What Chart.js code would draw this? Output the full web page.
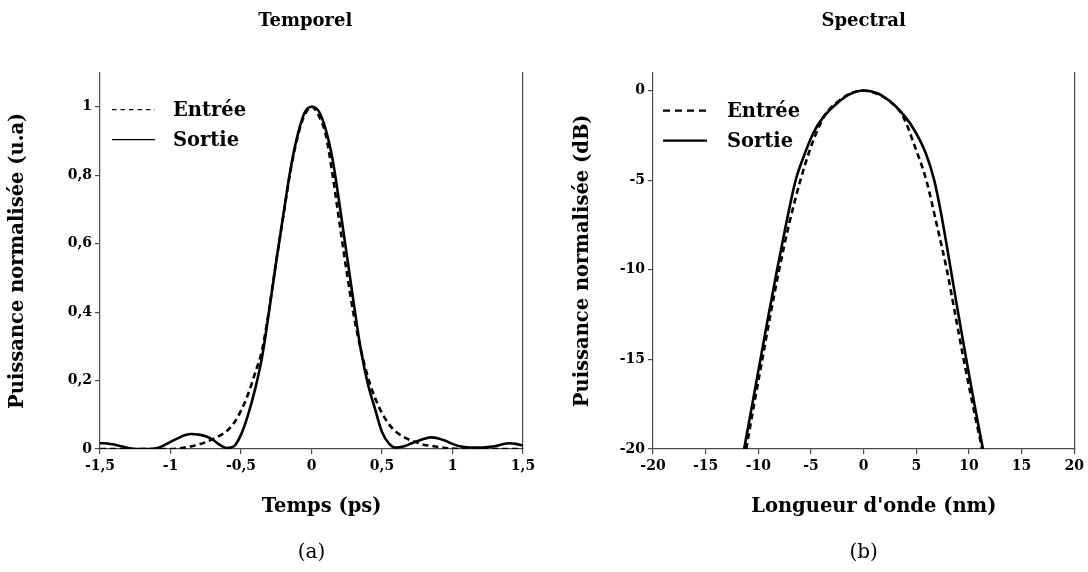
<!DOCTYPE html>
<html>
<head>
<meta charset="utf-8">
<script src="https://cdn.jsdelivr.net/npm/chart.js@4.4.1/dist/chart.umd.min.js"></script>
<style>
  html, body { margin: 0; padding: 0; background: #fff; }
  #wrap { position: relative; width: 1088px; height: 572px; }
  .panel { position: absolute; top: 0; width: 544px; height: 572px; }
  #p1 { left: 0; }
  #p2 { left: 544px; }
</style>
</head>
<body>
<div id="wrap">
  <div class="panel" id="p1"><canvas id="c1" width="544" height="572"></canvas></div>
  <div class="panel" id="p2"><canvas id="c2" width="544" height="572"></canvas></div>
</div>
<script>
// ---- Temporel : puissance normalisée en fonction du temps (ps) ----
const tempsPs = [
  -1.50, -1.45, -1.40, -1.35, -1.30, -1.25, -1.20, -1.15, -1.10, -1.05,
  -1.00, -0.95, -0.90, -0.85, -0.80, -0.75, -0.70, -0.65, -0.60, -0.55,
  -0.50, -0.45, -0.40, -0.35, -0.30, -0.25, -0.20, -0.15, -0.10, -0.05,
   0.00,
   0.05,  0.10,  0.15,  0.20,  0.25,  0.30,  0.35,  0.40,  0.45,  0.50,
   0.55,  0.60,  0.65,  0.70,  0.75,  0.80,  0.85,  0.90,  0.95,  1.00,
   1.05,  1.10,  1.15,  1.20,  1.25,  1.30,  1.35,  1.40,  1.45,  1.50
];
const temporelEntree = [
  0, 0, 0, 0, 0, 0, 0, 0, 0, 0,
  0, 0.001, 0.004, 0.008, 0.013, 0.020, 0.029, 0.039, 0.053, 0.076,
  0.112, 0.160, 0.222, 0.290, 0.410, 0.550, 0.680, 0.810, 0.910, 0.975,
  1.000,
  0.975, 0.920, 0.800, 0.657, 0.517, 0.390, 0.290, 0.210, 0.150, 0.105,
  0.072, 0.050, 0.036, 0.026, 0.019, 0.012, 0.009, 0.006, 0.003, 0.001,
  0, 0, 0, 0, 0, 0, 0, 0, 0, 0
];
const temporelSortie = [
  0.017, 0.016, 0.013, 0.008, 0.003, 0.000, 0.000, 0.000, 0.002, 0.010,
  0.021, 0.031, 0.040, 0.044, 0.042, 0.037, 0.027, 0.012, 0.003, 0.008,
  0.042, 0.100, 0.175, 0.270, 0.405, 0.548, 0.684, 0.815, 0.915, 0.982,
  1.000,
  0.988, 0.935, 0.845, 0.711, 0.568, 0.425, 0.290, 0.190, 0.118, 0.050,
  0.016, 0.004, 0.007, 0.015, 0.023, 0.030, 0.034, 0.031, 0.024, 0.015,
  0.008, 0.005, 0.004, 0.004, 0.006, 0.008, 0.013, 0.017, 0.015, 0.010
];
const tempsTicks = [-1.5, -1, -0.5, 0, 0.5, 1, 1.5];
const puissanceTicks = [0, 0.2, 0.4, 0.6, 0.8, 1];

// ---- Spectral : puissance normalisée (dB) en fonction de la longueur d'onde (nm) ----
const spectreEntreeNm = [
  -11.15, -10.4, -9.62, -8.85, -8.02, -7.1, -6.0, -5.1, -4.3, -3.6, -2.6, -1.3,
  0,
  1.3, 2.6, 3.75, 4.85, 5.95, 6.95, 7.9, 8.7, 9.5, 10.35, 11.25
];
const spectreEntreeDb = [
  -20, -17.5, -15, -12.5, -10, -7.5, -5, -3.3, -2.1, -1.3, -0.7, -0.18,
  0,
  -0.2, -0.65, -1.45, -3.1, -5, -7.5, -10, -12.5, -15, -17.5, -20
];
const spectreSortieNm = [
  -11.35, -10.57, -9.8, -9.02, -8.22, -7.38, -6.45, -5.7, -4.8, -3.85, -2.6, -1.3,
  0,
  1.3, 2.5, 3.4, 4.65, 5.9, 6.7, 7.4, 8.28, 9.0, 9.75, 10.52, 11.33
];
const spectreSortieDb = [
  -20, -17.5, -15, -12.5, -10, -7.5, -5, -3.7, -2.4, -1.5, -0.75, -0.2,
  0,
  -0.15, -0.6, -1.1, -2.05, -3.5, -5, -7, -10, -12.5, -15, -17.5, -20
];
const ondeTicks = [-20, -15, -10, -5, 0, 5, 10, 15, 20];
const dbTicks = [-20, -15, -10, -5, 0];

const serif = "'DejaVu Serif', 'Liberation Serif', serif";
const boldFont = (size) => ({ family: serif, weight: 'bold', size: size });
const axisColor = '#4a4a4a';
const virgule = (v) => String(v).replace('.', ',');
const pairs = (xs, ys) => xs.map((x, i) => ({ x: x, y: ys[i] }));

// Légende dessinée à l'intérieur de la zone de tracé, en haut à gauche
const legendeInterne = {
  id: 'legendeInterne',
  afterDatasetsDraw(chart, args, opts) {
    const { ctx, chartArea } = chart;
    ctx.save();
    chart.data.datasets.forEach((ds, i) => {
      const y = chartArea.top + opts.top + i * opts.gap;
      const x0 = chartArea.left + opts.lineStart;
      ctx.beginPath();
      ctx.setLineDash(ds.borderDash && ds.borderDash.length ? opts.dash : []);
      ctx.lineWidth = opts.lineWidth;
      ctx.strokeStyle = ds.borderColor;
      ctx.moveTo(x0, y);
      ctx.lineTo(x0 + opts.lineLen, y);
      ctx.stroke();
      ctx.setLineDash([]);
      ctx.font = 'bold ' + opts.fontSize + 'px ' + serif;
      ctx.fillStyle = '#000';
      ctx.textAlign = 'left';
      ctx.textBaseline = 'middle';
      ctx.fillText(ds.label, chartArea.left + opts.textStart, y + 1);
    });
    ctx.restore();
  }
};

function lineDataset(label, data, dashed) {
  return {
    label: label,
    data: data,
    borderColor: '#000',
    borderWidth: 2.6,
    borderDash: dashed ? [6, 4] : [],
    pointRadius: 0,
    fill: false,
    cubicInterpolationMode: 'monotone'
  };
}

function panel(canvasId, cfg) {
  return new Chart(document.getElementById(canvasId), {
    type: 'line',
    data: {
      datasets: [
        lineDataset('Entrée', cfg.entree, true),
        lineDataset('Sortie', cfg.sortie, false)
      ]
    },
    plugins: [legendeInterne],
    options: {
      responsive: false,
      animation: false,
      events: [],
      layout: { padding: { left: 0, right: cfg.padRight, top: 0, bottom: 0 } },
      plugins: {
        legend: { display: false },
        tooltip: { enabled: false },
        title: {
          display: true, text: cfg.title, fullSize: false, color: '#000',
          font: boldFont(18), padding: { top: 11, bottom: 40 }
        },
        subtitle: {
          display: true, text: cfg.caption, position: 'bottom', fullSize: false, color: '#000',
          font: { family: serif, weight: 'normal', size: 20 }, padding: { top: 22, bottom: 7 }
        },
        legendeInterne: cfg.legend
      },
      scales: {
        x: {
          type: 'linear', position: 'bottom', min: cfg.xMin, max: cfg.xMax,
          afterBuildTicks: (s) => { s.ticks = cfg.xTicks.map((v) => ({ value: v })); },
          afterFit: (s) => { s.height = 70; },
          border: { display: true, color: axisColor, width: 1.2 },
          grid: { drawOnChartArea: false, drawTicks: true, tickLength: 5, color: axisColor, lineWidth: 1.2 },
          ticks: { color: '#000', font: boldFont(14), padding: 4, maxRotation: 0, callback: (v) => virgule(v) },
          title: { display: true, text: cfg.xTitle, color: '#000', font: boldFont(19.5), padding: { top: 0, bottom: 0 } }
        },
        y: {
          type: 'linear', position: 'left', min: cfg.yMin, max: cfg.yMax,
          afterBuildTicks: (s) => { s.ticks = cfg.yTicks.map((v) => ({ value: v })); },
          afterFit: (s) => { s.width = cfg.yWidth; },
          border: { display: true, color: axisColor, width: 1.2 },
          grid: { drawOnChartArea: false, drawTicks: true, tickLength: 5, color: axisColor, lineWidth: 1.2 },
          ticks: { color: '#000', font: boldFont(14), padding: 3, callback: (v) => virgule(v) },
          title: { display: true, text: cfg.yTitle, color: '#000', font: boldFont(19.5), padding: { top: cfg.yTitlePad, bottom: 0 } }
        },
        cadre: {
          type: 'linear', position: 'right', min: cfg.yMin, max: cfg.yMax,
          afterFit: (s) => { s.width = 0; },
          border: { display: true, color: axisColor, width: 1.2 },
          grid: { display: false },
          ticks: { display: false }
        }
      }
    }
  });
}

panel('c1', {
  title: 'Temporel  ', caption: '(a)',
  entree: pairs(tempsPs, temporelEntree),
  sortie: pairs(tempsPs, temporelSortie),
  xMin: -1.5, xMax: 1.5, xTicks: tempsTicks, xTitle: '   Temps (ps)',
  yMin: 0, yMax: 1.1, yTicks: puissanceTicks, yTitle: 'Puissance normalisée (u.a)',
  yWidth: 100, yTitlePad: 6, padRight: 21,
  legend: { top: 37, gap: 30, lineStart: 12, lineLen: 43, textStart: 73, lineWidth: 1.2, dash: [4.5, 4], fontSize: 19.5 }
});

panel('c2', {
  title: 'Spectral', caption: '(b)',
  entree: pairs(spectreEntreeNm, spectreEntreeDb),
  sortie: pairs(spectreSortieNm, spectreSortieDb),
  xMin: -20, xMax: 20, xTicks: ondeTicks, xTitle: "   Longueur d'onde (nm)",
  yMin: -20, yMax: 1, yTicks: dbTicks, yTitle: 'Puissance normalisée (dB)',
  yWidth: 109, yTitlePad: 27, padRight: 12,
  legend: { top: 38, gap: 30, lineStart: 10, lineLen: 44, textStart: 74, lineWidth: 2.2, dash: [7, 5], fontSize: 19.5 }
});
</script>
</body>
</html>
